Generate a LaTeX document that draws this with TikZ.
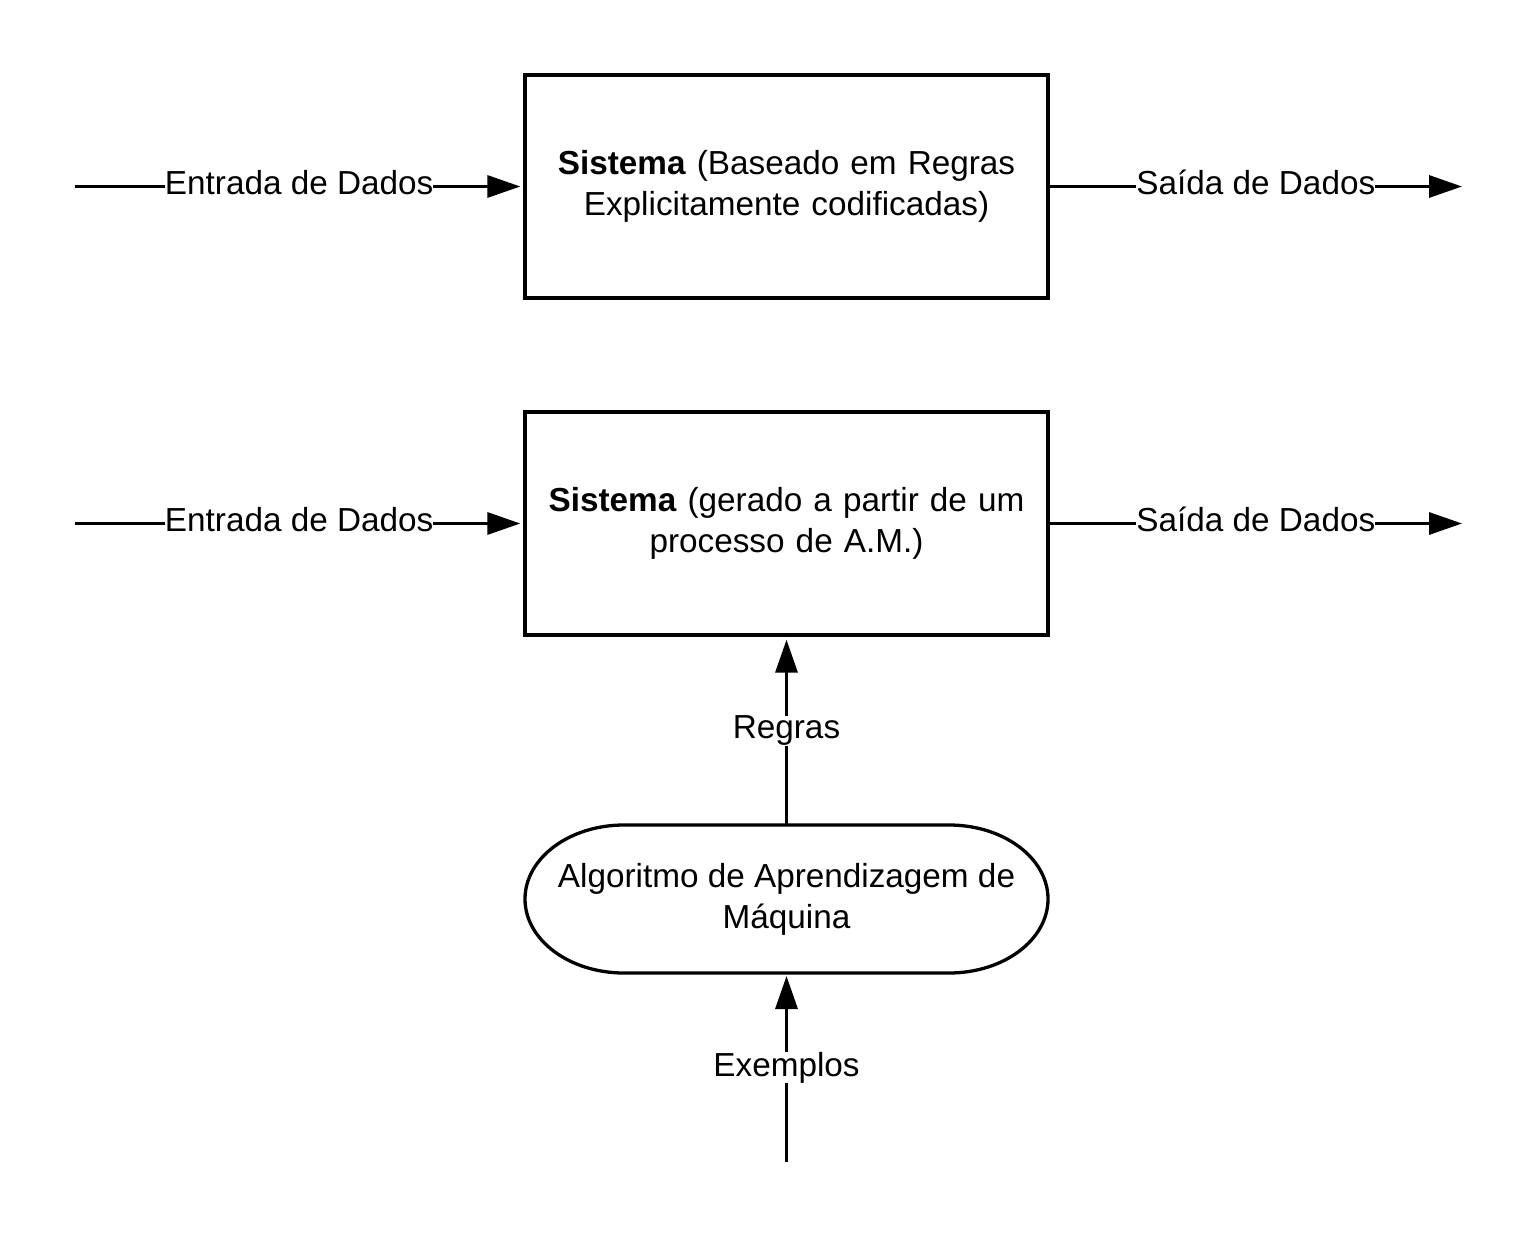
\documentclass[tikz,border=0pt]{standalone}
\usepackage{fontspec}
\setmainfont{Liberation Sans}
\usetikzlibrary{arrows.meta}
\begin{document}
\begin{tikzpicture}[x=1pt,y=-1pt,
  line width=3.3pt,
  every node/.style={font=\fontsize{33.3}{41}\selectfont, text=black},
  sysbox/.style={draw, minimum width=523pt, minimum height=223pt, inner sep=0pt, align=center, text width=510pt},
  arr/.style={-{Triangle[length=33pt,width=22pt]}, shorten >=3pt},
  lbl/.style={fill=white, inner sep=0pt, anchor=center},
  hlbl/.style={lbl, yshift=4pt}
]
\useasboundingbox (0,0) rectangle (1538,1238);
\node[sysbox] (box1) at (786.5,186.5) {\textbf{Sistema} (Baseado em Regras\\Explicitamente codificadas)};
\node[sysbox] (box2) at (786.5,523.5) {\textbf{Sistema} (gerado a partir de um\\processo de A.M.)};
\node[minimum width=523pt, minimum height=148pt, inner sep=0pt, outer sep=0pt, align=center] (alg) at (786.5,899) {Algoritmo de Aprendizagem de\\Máquina};
\draw ([xshift=99pt]alg.north west) -- ([xshift=-99pt]alg.north east)
  arc[start angle=-90, end angle=90, x radius=99, y radius=74]
  -- ([xshift=99pt]alg.south west)
  arc[start angle=90, end angle=270, x radius=99, y radius=74] -- cycle;
\coordinate (in1) at (75,186.5);
\coordinate (out1) at (1462,186.5);
\coordinate (in2) at (75,523.5);
\coordinate (out2) at (1462,523.5);
\coordinate (ex) at (786.5,1162);
\draw[arr] (in1) -- node[hlbl]{Entrada de Dados} (box1.west);
\draw[arr, shorten >=0pt] (box1.east) -- node[hlbl]{Saída de Dados} (out1);
\draw[arr] (in2) -- node[hlbl]{Entrada de Dados} (box2.west);
\draw[arr, shorten >=0pt] (box2.east) -- node[hlbl]{Saída de Dados} (out2);
\draw[arr] (alg.north) -- node[lbl]{Regras} (box2.south);
\draw[arr] (ex) -- node[lbl]{Exemplos} (alg.south);
\end{tikzpicture}
\end{document}
